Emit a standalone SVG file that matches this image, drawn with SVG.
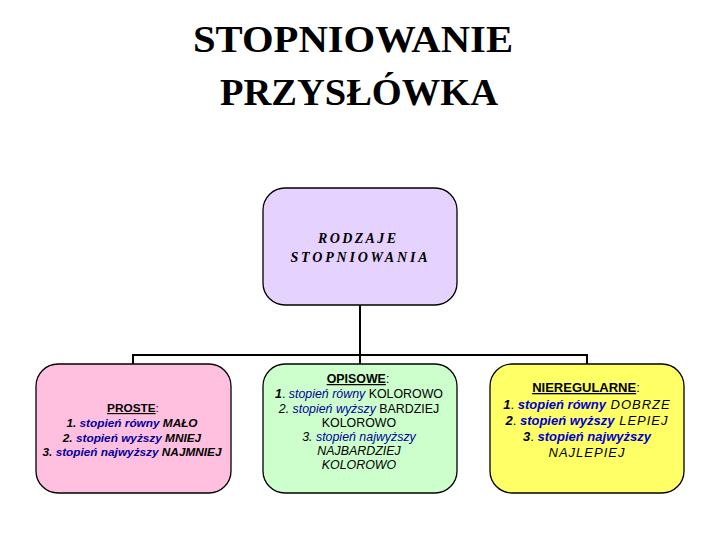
<svg xmlns="http://www.w3.org/2000/svg" width="720" height="540" viewBox="0 0 720 540">
<style>
.box{stroke:#000;stroke-width:1.3}
.title{font-family:"Liberation Serif","Times New Roman",serif;font-weight:bold;font-size:37px;fill:#000;text-anchor:middle}
.top{font-family:"Liberation Serif","Times New Roman",serif;font-weight:bold;font-style:italic;font-size:14px;fill:#000;text-anchor:middle;letter-spacing:2px}
.t{font-family:"Liberation Sans",Arial,sans-serif;font-size:11.8px;fill:#000;text-anchor:middle}
.m{font-family:"Liberation Sans",Arial,sans-serif;font-size:12.4px;fill:#000;text-anchor:middle}
.r{font-family:"Liberation Sans",Arial,sans-serif;font-size:13px;fill:#000;text-anchor:middle}
.b{font-weight:bold}
.i{font-style:italic}
.bl{fill:#000099}
.bl2{fill:#0000CC}
.u{text-decoration:underline}
.con{stroke:#000;stroke-width:2;fill:none}
</style>
<rect width="720" height="540" fill="#fff"/>
<g id="title">
<text class="title" x="353" y="52" textLength="320" lengthAdjust="spacingAndGlyphs">STOPNIOWANIE</text>
<text class="title" x="359" y="105" textLength="278" lengthAdjust="spacingAndGlyphs">PRZYSŁÓWKA</text>
</g>
<g id="connectors">
<path class="con" d="M360 305 V355 M133 355 H587 M133 354 V364 M360 355 V364 M587 354 V364"/>
</g>
<g id="rodzaje">
<rect class="box" x="263" y="188" width="194" height="117" rx="22" fill="#E6D2FF"/>
<text class="top" x="358" y="243" textLength="80">RODZAJE</text>
<text class="top" x="360" y="262" textLength="139">STOPNIOWANIA</text>
</g>
<g id="proste">
<rect class="box" x="36" y="364" width="195" height="129" rx="22" fill="#FFC0E0"/>
<text class="t b" x="133" y="412"><tspan class="u">PROSTE</tspan><tspan font-weight="normal">:</tspan></text>
<text class="t b i" x="132" y="427">1. <tspan class="bl">stopień równy</tspan> MAŁO</text>
<text class="t b i" x="132" y="442">2. <tspan class="bl">stopień wyższy</tspan> MNIEJ</text>
<text class="t b i" x="132" y="456">3. <tspan class="bl">stopień najwyższy</tspan> NAJMNIEJ</text>
</g>
<g id="opisowe">
<rect class="box" x="263" y="364" width="194" height="129" rx="22" fill="#CCFFCC"/>
<text class="m b" x="358" y="383"><tspan class="u">OPISOWE</tspan><tspan font-weight="normal">:</tspan></text>
<text class="m" x="359" y="398"><tspan class="b i">1</tspan>. <tspan class="i bl">stopień równy</tspan> KOLOROWO</text>
<text class="m" x="359" y="413"><tspan class="i">2. </tspan><tspan class="i bl">stopień wyższy</tspan> BARDZIEJ</text>
<text class="m" x="359" y="427">KOLOROWO</text>
<text class="m i" x="359" y="441">3. <tspan class="bl">stopień najwyższy</tspan></text>
<text class="m i" x="359" y="455">NAJBARDZIEJ</text>
<text class="m i" x="359" y="469">KOLOROWO</text>
</g>
<g id="nieregularne">
<rect class="box" x="490" y="364" width="194" height="129" rx="22" fill="#FFFF66"/>
<text class="r b" x="586" y="392"><tspan class="u">NIEREGULARNE</tspan><tspan font-weight="normal">:</tspan></text>
<text class="r" x="587" y="409"><tspan class="b i">1</tspan>. <tspan class="b i bl2">stopień równy</tspan><tspan class="i" letter-spacing="1">  DOBRZE</tspan></text>
<text class="r" x="587" y="425"><tspan class="b i">2</tspan>. <tspan class="b i bl2">stopień wyższy</tspan><tspan class="i" letter-spacing="1"> LEPIEJ</tspan></text>
<text class="r" x="587" y="441"><tspan class="b i">3</tspan>. <tspan class="b i bl2">stopień najwyższy</tspan></text>
<text class="r i" x="587" y="457" letter-spacing="1">NAJLEPIEJ</text>
</g>
</svg>
